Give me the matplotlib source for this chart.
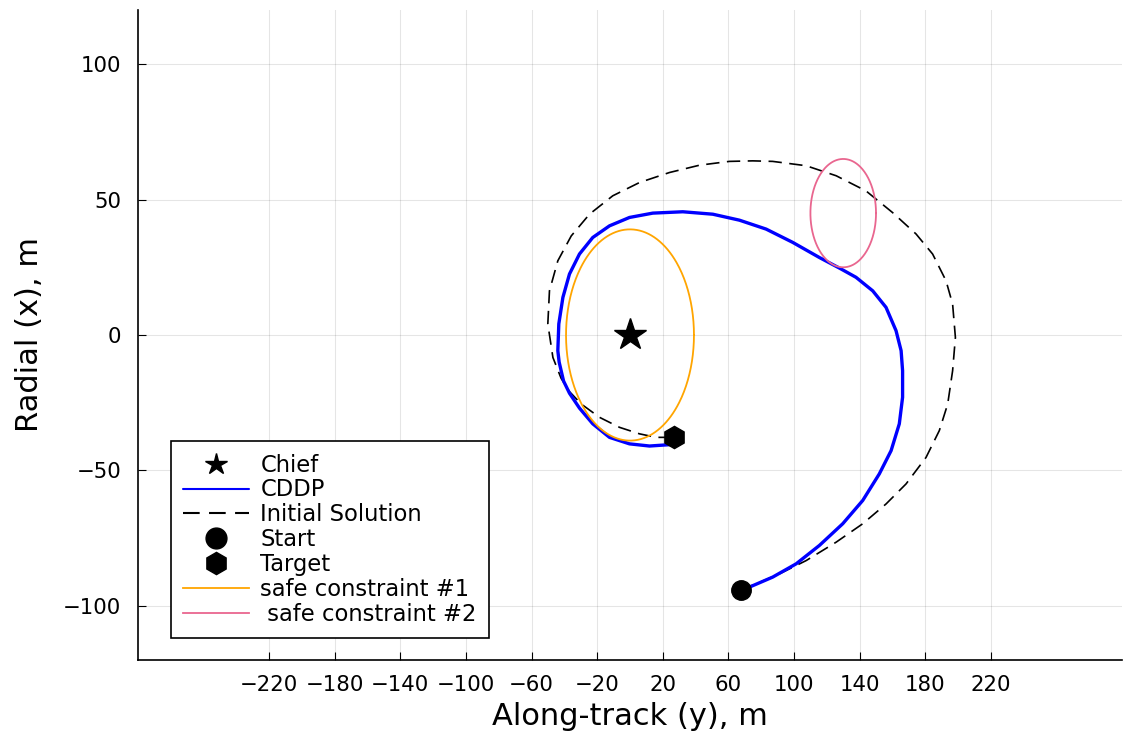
import matplotlib
matplotlib.use("Agg")
import matplotlib.pyplot as plt
import numpy as np

# ---- data ----
chief = (0.0, 0.0)
start = (67.8, -94.0)
target = (27.1, -37.8)

# CDDP trajectory: along-track (y) and radial (x)
cddp_y = [67.8, 72.8, 87.0, 101.3, 115.5, 129.7, 141.9, 152.0, 159.2, 164.2,
          166.2, 166.2, 165.3, 162.2, 156.1, 148.0, 137.8, 127.7, 115.5, 99.2,
          83.0, 66.7, 50.5, 32.2, 13.9, -0.3, -12.5, -22.7, -30.8, -36.9,
          -40.9, -43.4, -44.0, -43.2, -40.5, -36.9, -30.8, -22.7, -12.5, -0.3,
          11.9, 24.1]
cddp_x = [-94.0, -93.1, -89.4, -84.5, -77.7, -69.7, -61.1, -51.3, -42.7, -32.8,
          -23.0, -13.2, -5.8, 1.6, 10.2, 16.3, 21.3, 24.7, 28.6, 34.2,
          39.1, 42.4, 44.6, 45.5, 45.0, 43.4, 40.3, 36.0, 29.9, 22.5,
          13.9, 4.1, -5.8, -10.0, -17.0, -21.5, -27.0, -32.8, -37.8, -40.2,
          -41.0, -40.5]

# Initial solution trajectory
init_y = [67.8, 76.9, 91.1, 107.4, 125.7, 141.9, 156.1, 168.3, 180.5, 188.6,
          193.7, 196.7, 198.4, 196.7, 192.7, 184.5, 174.4, 160.1, 143.9, 125.7,
          107.4, 87.0, 74.8, 60.6, 42.4, 24.1, 5.8, -10.5, -24.7, -35.8,
          -44.0, -49.1, -50.1, -47.0, -42.0, -36.9, -29.7, -18.6, -6.4, 5.8,
          16.0, 25.1]
init_x = [-94.0, -91.9, -88.2, -83.3, -76.5, -69.7, -62.4, -55.0, -45.2, -35.3,
          -25.5, -13.2, -0.9, 11.4, 20.0, 29.9, 37.3, 45.2, 53.2, 58.8,
          62.5, 64.1, 64.3, 64.1, 62.7, 60.0, 56.3, 51.4, 44.6, 36.6,
          27.4, 16.3, 4.1, -8.3, -16.0, -20.9, -25.5, -30.4, -34.1, -36.5,
          -37.8, -37.8]

safe1_center = (0.0, 0.0)
safe1_radius = 39.0
safe2_center = (130.0, 45.0)
safe2_radius = 20.0

xticks = list(range(-220, 221, 40))
yticks = [-100, -50, 0, 50, 100]

# ---- figure ----
plt.rcParams['font.family'] = ['DejaVu Sans']
fig = plt.figure(figsize=(11.27, 7.36), dpi=100)
ax = fig.add_axes([0.1224, 0.1033, 0.8732, 0.8831])

th = np.linspace(0, 2 * np.pi, 400)

ax.plot([chief[0]], [chief[1]], marker='*', color='black', ms=24,
        linestyle='none', label='Chief', zorder=6)
ax.plot(cddp_y, cddp_x, color='#0000FF', lw=2.4, label='CDDP',
        solid_joinstyle='round', solid_capstyle='round', zorder=4)
ax.plot(init_y, init_x, color='black', lw=1.2, dashes=(8, 4.5),
        label='Initial Solution', zorder=3)
ax.plot([start[0]], [start[1]], marker='o', color='black', ms=14,
        linestyle='none', label='Start', zorder=6)
ax.plot([target[0]], [target[1]], marker='h', color='black', ms=16,
        linestyle='none', label='Target', zorder=6)
ax.plot(safe1_center[0] + safe1_radius * np.cos(th),
        safe1_center[1] + safe1_radius * np.sin(th),
        color='#FFA500', lw=1.3, label='safe constraint #1', zorder=5)
ax.plot(safe2_center[0] + safe2_radius * np.cos(th),
        safe2_center[1] + safe2_radius * np.sin(th),
        color='#E9668F', lw=1.3, label=' safe constraint #2', zorder=5)

ax.set_xlim(-300, 300)
ax.set_ylim(-120, 120)
ax.set_xticks(xticks)
ax.set_yticks(yticks)
ax.tick_params(direction='in', length=6, width=0.8, labelsize=15.3, color='black')
ax.tick_params(axis='x', pad=10.8)
ax.tick_params(axis='y', pad=12)
ax.grid(True, color='black', alpha=0.1, lw=0.8)
ax.spines['top'].set_visible(False)
ax.spines['right'].set_visible(False)
ax.spines['left'].set_linewidth(1.2)
ax.spines['bottom'].set_linewidth(1.2)
ax.set_xlabel('Along-track (y), m', fontsize=22, va='center')
ax.set_ylabel('Radial (x), m', fontsize=22, va='center')
ax.xaxis.set_label_coords(0.5, (660 - 717) / 650)
ax.yaxis.set_label_coords((30 - 138) / 984, 0.5)

leg = ax.legend(loc='lower left', bbox_to_anchor=(0.0335, 0.0338),
                borderaxespad=0, fontsize=16.3, fancybox=False, framealpha=1,
                edgecolor='black', handlelength=2.9, handletextpad=0.5,
                labelspacing=0.08, borderpad=0.55)
leg.get_frame().set_linewidth(1.2)
hs = leg.legend_handles
hs[0].set_markersize(16)
hs[1].set_linewidth(1.5)
hs[2].set_linewidth(1.5)
hs[3].set_markersize(15)
hs[4].set_markersize(16)

fig.savefig('out.png', dpi=100)
